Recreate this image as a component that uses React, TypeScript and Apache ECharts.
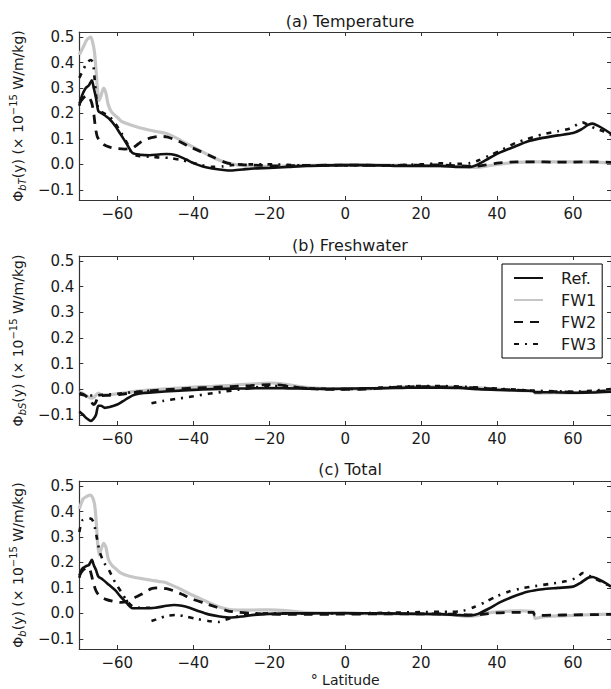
import React, { useEffect, useRef } from "react";
import * as echarts from "echarts";

const LAT_TICKS = [-60, -40, -20, 0, 20, 40, 60];
const VAL_TICKS = [-0.1, 0, 0.1, 0.2, 0.3, 0.4, 0.5];
const TITLES = ["(a) Temperature", "(b) Freshwater", "(c) Total"];
const Y_SUBS = ["bT", "bS", "b"];
const SERIES_NAMES = ["Ref.", "FW1", "FW2", "FW3"];

// Panel (a) Temperature
const tRef = [[-70,0.23],[-69.3,0.27],[-68.3,0.30],[-67.5,0.31],[-66.7,0.33],[-66.2,0.30],[-65.6,0.26],[-65,0.21],[-64,0.20],[-62.2,0.18],[-60.5,0.15],[-59.2,0.12],[-57.5,0.08],[-56,0.045],[-54,0.038],[-51.5,0.036],[-49,0.039],[-47,0.041],[-44.5,0.036],[-42,0.02],[-40,0.005],[-37.5,-0.008],[-35,-0.016],[-32,-0.022],[-30,-0.024],[-27,-0.02],[-24,-0.016],[-20,-0.014],[-15,-0.01],[-10,-0.006],[-5,-0.004],[0,-0.003],[5,-0.003],[10,-0.004],[15,-0.006],[20,-0.006],[25,-0.006],[30,-0.01],[33,-0.01],[35,0.0],[38,0.025],[41,0.048],[45,0.072],[48,0.09],[52,0.104],[56,0.114],[60,0.123],[62,0.136],[64,0.155],[65.2,0.16],[66.5,0.152],[68.5,0.135],[70,0.12]];
const tFW1 = [[-70,0.43],[-69,0.46],[-68,0.49],[-67,0.50],[-66.5,0.48],[-66,0.44],[-65.6,0.37],[-65.2,0.29],[-64.8,0.25],[-64.3,0.27],[-63.6,0.30],[-63,0.28],[-62.4,0.235],[-61.5,0.205],[-60,0.185],[-59,0.17],[-57,0.158],[-55,0.148],[-53,0.14],[-51,0.133],[-49,0.127],[-47.5,0.123],[-46,0.115],[-44,0.10],[-42,0.083],[-40,0.068],[-38,0.052],[-36,0.037],[-34,0.022],[-32,0.01],[-30,0.002],[-27,-0.005],[-24,-0.008],[-20,-0.008],[-15,-0.006],[-10,-0.004],[0,-0.002],[10,-0.003],[20,-0.005],[28,-0.007],[33,-0.012],[36,-0.01],[40,0.0],[45,0.008],[50,0.01],[55,0.01],[60,0.01],[65,0.009],[70,0.006]];
const tFW2 = [[-70,0.24],[-69,0.26],[-68,0.27],[-67.3,0.26],[-66.7,0.24],[-66.2,0.2],[-65.8,0.15],[-65.3,0.11],[-64.5,0.09],[-63.5,0.077],[-62,0.068],[-60,0.062],[-58,0.06],[-56,0.064],[-54.5,0.08],[-53,0.095],[-51,0.105],[-49,0.11],[-47,0.108],[-45,0.098],[-43,0.085],[-41,0.07],[-38,0.05],[-35,0.03],[-32,0.01],[-30,0.002],[-26,-0.002],[-22,-0.004],[-18,-0.006],[-10,-0.004],[0,-0.003],[10,-0.004],[20,-0.003],[25,-0.002],[30,-0.006],[34,-0.008],[37,-0.002],[40,0.005],[45,0.01],[50,0.01],[55,0.009],[60,0.009],[65,0.01],[70,0.008]];
const tFW3 = [[-70,0.34],[-69,0.37],[-68,0.40],[-67,0.41],[-66.4,0.40],[-66,0.34],[-65.5,0.26],[-65,0.22],[-64,0.205],[-62.2,0.19],[-60.5,0.16],[-59,0.125],[-57.5,0.085],[-56,0.04],[-54,0.032],[-51,0.03],[-49,0.027],[-46,0.025],[-43.5,0.018],[-40.5,0.008],[-38,-0.002],[-35,-0.01],[-32,-0.008],[-30,-0.003],[-25,0.0],[-20,0.0],[-15,-0.002],[-10,-0.004],[0,-0.004],[10,-0.004],[20,0.0],[25,0.004],[30,0.002],[33,0.005],[35,0.015],[38,0.035],[41,0.055],[45,0.085],[48,0.1],[52,0.118],[56,0.13],[59,0.14],[62.5,0.165],[64,0.155],[66,0.14],[68,0.13],[70,0.115]];

// Panel (b) Freshwater
const sRef = [[-70,-0.087],[-69,-0.1],[-68,-0.115],[-67,-0.124],[-66.2,-0.115],[-65.6,-0.1],[-65,-0.065],[-64.3,-0.065],[-63.3,-0.073],[-62,-0.07],[-60,-0.06],[-58.5,-0.047],[-57,-0.033],[-55.5,-0.022],[-53,-0.015],[-50,-0.012],[-45,-0.007],[-40,-0.003],[-35,0.0],[-30,0.002],[-25,0.003],[-20,0.004],[-15,0.003],[-10,0.002],[-5,0.001],[0,0.002],[5,0.003],[10,0.004],[15,0.005],[20,0.006],[25,0.006],[30,0.005],[35,0.0],[40,-0.003],[45,-0.005],[49.5,-0.007],[50,-0.012],[55,-0.012],[60,-0.014],[65,-0.013],[70,-0.01]];
const sFW1 = [[-70,-0.01],[-69,-0.018],[-68,-0.027],[-67,-0.035],[-66,-0.03],[-65,-0.015],[-64.2,-0.022],[-63,-0.022],[-60,-0.018],[-56,-0.01],[-52,-0.004],[-48,0.0],[-44,0.004],[-40,0.008],[-35,0.011],[-30,0.015],[-25,0.02],[-20,0.024],[-17,0.022],[-14,0.015],[-11,0.008],[-8,0.004],[-5,0.002],[0,0.001],[5,0.0],[10,0.004],[15,0.008],[20,0.01],[25,0.01],[30,0.008],[35,0.005],[40,0.0],[45,-0.005],[49.5,-0.008],[50,-0.016],[55,-0.014],[60,-0.015],[65,-0.012],[70,-0.006]];
const sFW2 = [[-70,-0.015],[-69,-0.02],[-68,-0.03],[-67,-0.045],[-66.3,-0.06],[-65.8,-0.055],[-65.2,-0.035],[-64.5,-0.026],[-62,-0.024],[-59,-0.02],[-55,-0.012],[-50,-0.005],[-45,0.0],[-40,0.004],[-35,0.007],[-30,0.01],[-25,0.014],[-20,0.018],[-16,0.014],[-12,0.006],[-8,0.001],[-4,-0.001],[0,-0.001],[5,0.0],[10,0.005],[15,0.008],[20,0.01],[25,0.009],[30,0.007],[35,0.004],[40,0.0],[45,-0.004],[49.5,-0.006],[50,-0.012],[55,-0.01],[60,-0.012],[65,-0.01],[70,-0.005]];
const sFW3 = [[-70,-0.02],[-68,-0.025],[-66,-0.025],[-64,-0.022],[-60,-0.018],[-56,-0.012],[-51.3,-0.006],[-51.2,"-"],[-51,-0.055],[-48,-0.046],[-44,-0.037],[-40,-0.028],[-36,-0.018],[-32,-0.01],[-28,-0.002],[-24,0.006],[-20,0.012],[-16,0.012],[-12,0.006],[-8,0.002],[0,0.0],[5,0.002],[10,0.006],[15,0.01],[20,0.012],[25,0.012],[30,0.01],[35,0.006],[40,0.002],[45,-0.002],[50,-0.006],[55,-0.008],[60,-0.01],[65,-0.006],[70,0.0]];

// Panel (c) Total
const cRef = [[-70,0.14],[-69.3,0.175],[-68.3,0.185],[-67.5,0.19],[-66.7,0.21],[-66.2,0.19],[-65.6,0.17],[-65,0.145],[-64,0.135],[-62.2,0.112],[-60.5,0.09],[-59.2,0.067],[-57.5,0.04],[-56,0.02],[-53,0.02],[-50,0.022],[-47,0.03],[-45,0.033],[-43,0.03],[-41,0.022],[-38.5,0.008],[-36,-0.004],[-33,-0.012],[-30,-0.016],[-27,-0.012],[-24,-0.006],[-20,-0.002],[-15,0.0],[-10,0.0],[0,0.001],[10,0.0],[20,-0.002],[25,-0.003],[30,-0.007],[33,-0.008],[35,-0.002],[38,0.02],[41,0.045],[45,0.07],[48,0.085],[52,0.095],[56,0.1],[60,0.105],[62,0.12],[64,0.14],[65.2,0.143],[66.5,0.135],[68.5,0.12],[70,0.105]];
const cFW1 = [[-70,0.41],[-69,0.45],[-68,0.46],[-67,0.465],[-66.5,0.455],[-66,0.43],[-65.6,0.37],[-65.2,0.28],[-64.8,0.23],[-64.3,0.25],[-63.6,0.275],[-63,0.26],[-62.4,0.215],[-61.5,0.19],[-60,0.17],[-59,0.158],[-57,0.147],[-55,0.14],[-53,0.135],[-51,0.13],[-49,0.125],[-47.5,0.122],[-46,0.113],[-44,0.1],[-42,0.085],[-40,0.07],[-38,0.057],[-36,0.043],[-34,0.03],[-32,0.02],[-30,0.014],[-25,0.013],[-20,0.014],[-15,0.01],[-10,0.003],[0,0.0],[10,-0.002],[20,-0.003],[28,-0.005],[32,-0.012],[35,-0.008],[38,0.003],[42,0.008],[46,0.01],[49.5,0.008],[50,-0.02],[52,-0.014],[56,-0.01],[60,-0.008],[65,-0.005],[70,-0.003]];
const cFW2 = [[-70,0.15],[-69,0.17],[-68,0.18],[-67.3,0.175],[-66.8,0.15],[-66.3,0.12],[-65.5,0.085],[-64.5,0.067],[-63,0.055],[-61,0.047],[-59,0.043],[-57,0.05],[-55,0.065],[-53,0.08],[-51,0.097],[-49,0.1],[-47,0.097],[-45,0.088],[-43,0.075],[-40,0.055],[-37,0.04],[-34,0.025],[-31,0.01],[-28,0.004],[-24,0.0],[-20,-0.003],[-15,-0.004],[-10,-0.004],[0,-0.003],[10,-0.002],[20,-0.002],[28,-0.003],[33,-0.006],[36,-0.004],[40,0.002],[45,0.004],[49.5,0.004],[50,-0.008],[55,-0.007],[60,-0.006],[65,-0.005],[70,-0.004]];
const cFW3 = [[-70,0.32],[-69.2,0.365],[-68,0.37],[-67,0.372],[-66.3,0.36],[-65.8,0.33],[-65.3,0.29],[-64.6,0.24],[-63.5,0.2],[-62.2,0.17],[-60.5,0.12],[-59,0.085],[-57.5,0.05],[-56,0.028],[-54,0.022],[-51.3,0.022],[-51.2,"-"],[-51,-0.03],[-49,-0.02],[-47,-0.01],[-44.5,-0.006],[-42,-0.012],[-39,-0.022],[-36,-0.03],[-33.5,-0.034],[-31.5,-0.025],[-29,-0.014],[-25,-0.004],[-20,0.0],[-15,0.0],[-10,0.0],[0,0.0],[10,0.002],[20,0.005],[25,0.006],[28,0.006],[31,0.01],[34,0.025],[37,0.045],[40,0.068],[43,0.085],[46,0.097],[50,0.107],[54,0.116],[58,0.126],[61,0.14],[62.5,0.158],[64,0.15],[66,0.135],[68,0.12],[70,0.105]];

const PANELS = [
  [tRef, tFW1, tFW2, tFW3],
  [sRef, sFW1, sFW2, sFW3],
  [cRef, cFW1, cFW2, cFW3],
];

const FONT = "DejaVu Sans";
const INK = "#1a1a1a";
const SPINE = "#333333";

const STYLES = [
  { color: "#111111", width: 2.6, type: "solid" as any, z: 4 },
  { color: "#c6c6c6", width: 3.2, type: "solid" as any, z: 1 },
  { color: "#111111", width: 2.8, type: [9, 7] as any, z: 3 },
  { color: "#111111", width: 2.6, type: [5, 6, 2, 6] as any, z: 2 },
];

const GRID_TOPS = [32, 256, 481];
const GRID_HEIGHTS = [168, 169, 168];

function fmtNum(v: number, digits: number) {
  const s = Math.abs(v).toFixed(digits);
  return (v < -1e-9 ? "\u2212" : "") + s;
}

export default function App() {
  const ref = useRef<HTMLDivElement>(null);
  useEffect(() => {
    if (!ref.current) return;
    const chart = echarts.init(ref.current, undefined, { renderer: "svg" });

    const grids: any[] = [];
    const xAxes: any[] = [];
    const yAxes: any[] = [];
    const series: any[] = [];
    const titles: any[] = [];

    for (let i = 0; i < 3; i++) {
      grids.push({ left: 76, top: GRID_TOPS[i], width: 536, height: GRID_HEIGHTS[i], containLabel: false });
      const baseX = {
        gridIndex: i,
        type: "value",
        min: -70,
        max: 70,
        splitLine: { show: false },
        axisLine: { show: true, onZero: false, lineStyle: { color: SPINE, width: 1.2 } },
        axisTick: { show: true, inside: true, length: 4, customValues: LAT_TICKS, lineStyle: { color: SPINE, width: 1 } },
      };
      xAxes.push({
        ...baseX,
        position: "bottom",
        axisLabel: {
          show: true,
          customValues: LAT_TICKS,
          formatter: (v: number) => fmtNum(v, 0),
          fontFamily: FONT,
          fontSize: 15,
          color: INK,
          margin: 6,
        },
        name: i === 2 ? "\u00b0 Latitude" : "",
        nameLocation: "middle",
        nameGap: 24,
        nameTextStyle: { fontFamily: FONT, fontSize: 14, color: INK },
      });
      xAxes.push({ ...baseX, position: "top", axisLabel: { show: false } });

      const baseY = {
        gridIndex: i,
        type: "value",
        min: -0.14,
        max: 0.52,
        splitLine: { show: false },
        axisLine: { show: true, onZero: false, lineStyle: { color: SPINE, width: 1.2 } },
        axisTick: { show: true, inside: true, length: 4, customValues: VAL_TICKS, lineStyle: { color: SPINE, width: 1 } },
      };
      yAxes.push({
        ...baseY,
        position: "left",
        axisLabel: {
          show: true,
          customValues: VAL_TICKS,
          formatter: (v: number) => fmtNum(v, 1),
          fontFamily: FONT,
          fontSize: 15,
          color: INK,
          margin: 5,
        },
        name: "\u03a6{s|" + Y_SUBS[i] + "}(y) (\u00d7 10{p|\u221215} W/m/kg)",
        nameLocation: "middle",
        nameRotate: 90,
        nameGap: 50,
        nameTextStyle: {
          fontFamily: FONT,
          fontSize: 14,
          color: INK,
          lineHeight: 19,
          rich: {
            s: { fontFamily: FONT, fontSize: 10, fontStyle: "italic", color: INK, verticalAlign: "bottom", lineHeight: 10 },
            p: { fontFamily: FONT, fontSize: 10, color: INK, verticalAlign: "top", lineHeight: 10 },
          },
        },
      });
      yAxes.push({ ...baseY, position: "right", axisLabel: { show: false } });

      titles.push({
        text: TITLES[i],
        left: 345,
        top: [8, 232, 456][i],
        textAlign: "center",
        textStyle: { fontFamily: FONT, fontSize: 16, fontWeight: "normal", color: INK },
      });

      PANELS[i].forEach((data, k) => {
        const st = STYLES[k];
        series.push({
          type: "line",
          name: SERIES_NAMES[k],
          xAxisIndex: i * 2,
          yAxisIndex: i * 2,
          data: data,
          showSymbol: false,
          symbol: "none",
          smooth: 0.25,
          connectNulls: false,
          z: st.z,
          clip: true,
          lineStyle: { color: st.color, width: st.width, type: st.type },
          itemStyle: { color: st.color },
          emphasis: { disabled: true },
        });
      });
    }

    chart.setOption({
      animation: false,
      backgroundColor: "#ffffff",
      title: titles,
      grid: grids,
      xAxis: xAxes,
      yAxis: yAxes,
      legend: {
        data: SERIES_NAMES,
        orient: "vertical",
        left: 502,
        top: 264,
        padding: [6, 6, 6, 11],
        itemWidth: 29,
        itemHeight: 14,
        itemGap: 6,
        borderColor: "#000000",
        borderWidth: 1,
        borderRadius: 0,
        backgroundColor: "#ffffff",
        itemStyle: { opacity: 0, borderWidth: 0 },
        formatter: (name: string) => "{t|" + name + "}",
        textStyle: {
          fontFamily: FONT,
          fontSize: 16,
          color: INK,
          rich: { t: { fontFamily: FONT, fontSize: 16, color: INK, lineHeight: 20, padding: [0, 0, 0, 13] } },
        },
      },
      series,
    });

    return () => chart.dispose();
  }, []);

  return (
    <div
      ref={ref}
      style={{ position: "absolute", left: 0, top: 0, width: 611, height: 689 }}
    />
  );
}
